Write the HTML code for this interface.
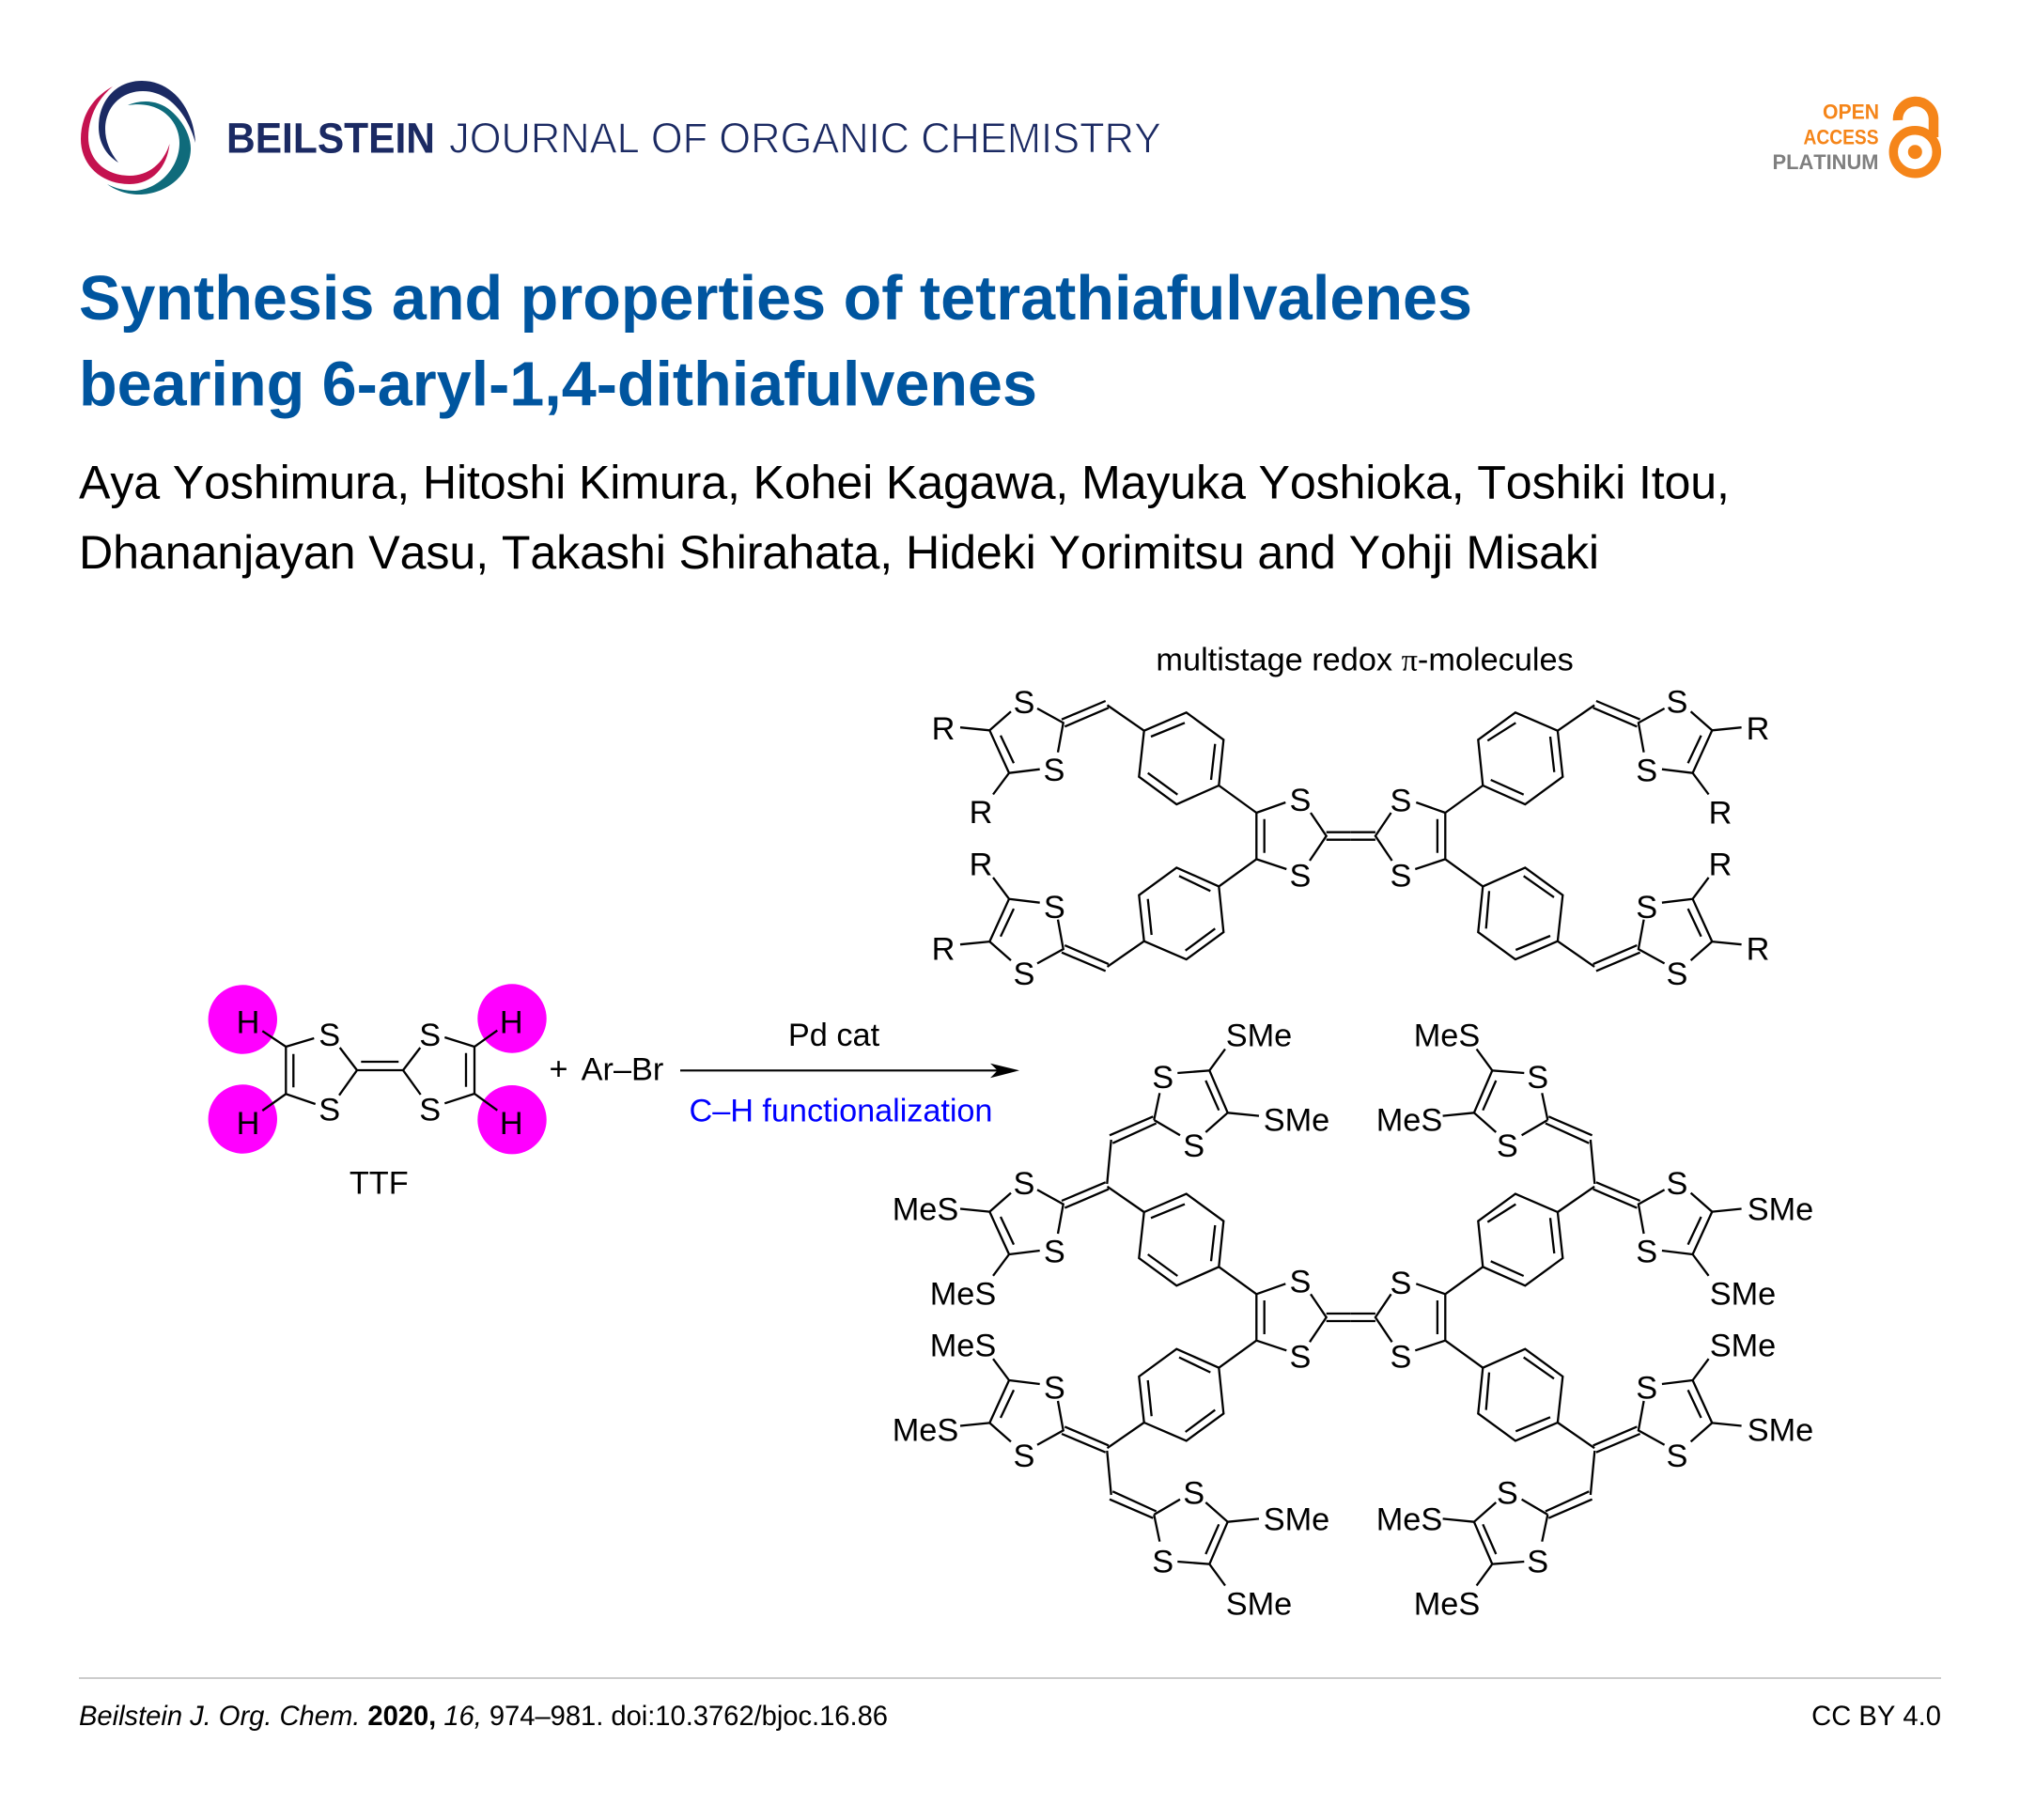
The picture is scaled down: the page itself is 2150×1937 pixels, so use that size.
<!DOCTYPE html>
<html lang="en"><head><meta charset="utf-8"><title>Synthesis and properties of tetrathiafulvalenes bearing 6-aryl-1,4-dithiafulvenes</title>
<style>
html,body{margin:0;padding:0;background:#fff}
svg{display:block}
text{font-family:"Liberation Sans",Arial,sans-serif;font-kerning:none}
.b{fill:none;stroke:#000;stroke-width:2.3;stroke-linejoin:miter;stroke-linecap:butt}
.c text{font-size:34.3px;fill:#000;text-anchor:middle}
</style></head><body>
<svg xmlns="http://www.w3.org/2000/svg" width="2150" height="1937" viewBox="0 0 2150 1937">
<rect width="2150" height="1937" fill="#fff"/>
<defs>
<g id="arm" class="b">
<path d="M1053.3 777.3L1076 757.3M1104 754L1131.7 769.3L1126 800.7M1106.7 818.7L1074 822.7L1053.3 777.3M1065 782.7L1079 812.3M1130 765.7L1176.7 746M1133.3 773.3L1180 753.3M1178.5 750.5L1217.7 777.7M1297.3 836L1337.3 865M1022 774.2L1053.3 777.3M1074 822.7L1057 845.5"/>
<path d="M1217.7 777.7L1262.7 758.3L1302.3 787.3L1297.3 836L1252.3 856L1212.3 826.7Z"/>
</g>
<g id="cen" class="b">
<path d="M1337.3 865L1368.3 854M1395 865L1411.7 889.7L1394 916M1337.3 914.4L1369.3 925M1337.3 865V914.4M1345.7 871.7V907.7M1411.7 885.7H1437.8M1411.7 893.7H1437.8"/>
</g>
<g id="inn" class="b">
<path d="M1225 784L1261 769.3M1293.3 791.7L1289 830M1253.3 845.7L1221.7 822.7M1650 784L1654.3 821.7M1613.3 769.3L1583.3 788.3M1586.7 830L1621.7 845.7M1255 932.3L1288.3 948.3M1221.7 956.7L1225.7 995M1293.3 988.3L1261.7 1011.7M1621.7 932.3L1654 955M1585 948.3L1581.7 988.3M1650 996L1613.3 1011"/>
</g>
<g id="mol">
<use href="#arm"/>
<use href="#arm" transform="matrix(-1 0 0 1 2875.6 0)"/>
<use href="#arm" transform="matrix(1 0 0 -1 0 1779.4)"/>
<use href="#arm" transform="matrix(-1 0 0 -1 2875.6 1779.4)"/>
<use href="#cen"/>
<use href="#cen" transform="matrix(-1 0 0 1 2875.6 0)"/>
<use href="#inn"/>
</g>
<g id="br" class="b">
<path d="M1178.3 1260L1182.7 1213M1181 1208.3L1227.3 1188.3M1184.3 1216.7L1230.7 1195.5M1228.3 1192L1234.3 1163.3M1253.3 1142L1287.3 1139.3L1306.7 1184.3M1283.3 1150L1297.3 1181.7M1287.3 1139.3L1304 1116.5M1306.7 1184.3L1340 1187.6M1306.7 1184.3L1283.3 1205M1228.3 1192L1256 1208.3"/>
</g>
</defs>

<!-- logo -->
<path fill="#1b2a63" d="M208 152C206 115 183 86 151 86C123 86 105 108 105 135C105 152 113 165 126 173C117 162 112 150 112 137C112 114 129 97 152 97C179 97 199 120 208 152Z"/>
<path fill="#c4124f" d="M120 92C98 104 86 124 86 148C86 176 108 196 138 196C162 196 178 178 180.5 153C174 174 158 187 138 187C112 187 94 170 94 146C94 126 103 106 120 92Z"/>
<path fill="#0f6b7b" d="M136 112C150 106 168 106 182 118C196 130 203 146 203 158C203 186 177 207 148 207C134 207 122 202 114 196C124 201 134 203 144 203C170 201 191 178 191 152C191 130 172 106 136 112Z"/>
<text x="241" y="162.7" font-size="45" font-weight="700" fill="#1b2a63" textLength="222" lengthAdjust="spacingAndGlyphs">BEILSTEIN</text>
<text x="478" y="162.7" font-size="45" fill="#1b2a63" stroke="#fff" stroke-width="1" textLength="758" lengthAdjust="spacingAndGlyphs">JOURNAL OF ORGANIC CHEMISTRY</text>

<!-- open access -->
<text x="1940" y="126.7" font-size="22" font-weight="700" fill="#f58519" textLength="60" lengthAdjust="spacingAndGlyphs">OPEN</text>
<text x="1919.5" y="153.3" font-size="22" font-weight="700" fill="#f58519" textLength="80" lengthAdjust="spacingAndGlyphs">ACCESS</text>
<text x="1886.5" y="180" font-size="22" font-weight="700" fill="#7f7f7f" textLength="113" lengthAdjust="spacingAndGlyphs">PLATINUM</text>
<circle cx="2038.3" cy="161.7" r="23" fill="none" stroke="#f58519" stroke-width="9.5"/>
<circle cx="2038.3" cy="161.7" r="7.5" fill="#f58519"/>
<path d="M2020 128A19 19 0 0 1 2058 126V146" fill="none" stroke="#f58519" stroke-width="10.5"/>

<!-- title -->
<text x="84" y="340" font-size="66.55" font-weight="700" fill="#00559f" textLength="1483">Synthesis and properties of tetrathiafulvalenes</text>
<text x="84" y="431.7" font-size="66.55" font-weight="700" fill="#00559f" textLength="1020">bearing 6-aryl-1,4-dithiafulvenes</text>
<text x="84" y="530.7" font-size="50.2" fill="#000" textLength="1757">Aya Yoshimura, Hitoshi Kimura, Kohei Kagawa, Mayuka Yoshioka, Toshiki Itou,</text>
<text x="84" y="605" font-size="50.2" fill="#000" textLength="1618">Dhananjayan Vasu, Takashi Shirahata, Hideki Yorimitsu and Yohji Misaki</text>

<!-- TTF -->
<circle cx="258.3" cy="1085" r="36.7" fill="#ff00ff"/>
<circle cx="258.3" cy="1191" r="36.7" fill="#ff00ff"/>
<circle cx="545" cy="1084" r="36.7" fill="#ff00ff"/>
<circle cx="545" cy="1191.7" r="36.7" fill="#ff00ff"/>
<path class="b" d="M279.3 1097.3L304.3 1114L334.3 1105M361.7 1115L380 1139L361 1165.7M335.7 1175L304.3 1164.3L279.3 1182M304.3 1114V1164.3M312.3 1121.7V1157.3M384.3 1130H424.3M380 1139H429M447.3 1115L429 1139L447.7 1165M473.3 1104L505 1114L529.3 1096.7M473.3 1174.3L505 1164L529.3 1181.7M505 1114V1164M496 1120.7V1156.7"/>
<g class="c" transform="translate(0 0.5)">
<text x="264" y="1098.8">H</text><text x="264" y="1206.5">H</text><text x="544.3" y="1098.8">H</text><text x="544.3" y="1206.5">H</text>
<text x="350.7" y="1112.5">S</text><text x="350.7" y="1192.2">S</text><text x="457.7" y="1112.5">S</text><text x="457.7" y="1192.2">S</text>
<text x="403.3" y="1269.8">TTF</text>
<text x="594.5" y="1148.5">+</text>
<text x="662.5" y="1149">Ar–Br</text>
<text x="887.5" y="1112.5">Pd cat</text>
<text x="895" y="1192.8" style="fill:#0000ff" textLength="323">C–H functionalization</text>
</g>
<path d="M724 1139.3H1062" fill="none" stroke="#000" stroke-width="2.2"/>
<path d="M1054 1131.7L1085 1139.3L1054 1147.3L1061.7 1139.3Z" fill="#000"/>

<!-- molecules -->
<use href="#mol"/>
<use href="#mol" transform="translate(0 512.3)"/>
<use href="#br"/>
<use href="#br" transform="matrix(-1 0 0 1 2875.6 0)"/>
<use href="#br" transform="matrix(1 0 0 -1 0 2804)"/>
<use href="#br" transform="matrix(-1 0 0 -1 2875.6 2804)"/>

<g class="c" transform="translate(0 0.5)">
<text x="1452.6" y="712.8">multistage redox <tspan font-family="Liberation Serif,serif">π</tspan>-molecules</text>
<!-- molecule 1 -->
<text x="1090" y="758.5">S</text><text x="1122" y="830.5">S</text><text x="1004" y="786.5">R</text><text x="1044" y="875.5">R</text>
<text x="1044" y="930.8">R</text><text x="1122.3" y="976.5">S</text><text x="1004" y="1020.8">R</text><text x="1090" y="1047.5">S</text>
<text x="1384" y="862.5">S</text><text x="1384" y="943.2">S</text><text x="1491" y="863.2">S</text><text x="1491" y="943.2">S</text>
<text x="1785" y="758.2">S</text><text x="1871" y="786.5">R</text><text x="1752.7" y="830.8">S</text><text x="1831" y="875.8">R</text>
<text x="1831" y="930.8">R</text><text x="1752.7" y="976.5">S</text><text x="1871" y="1020.8">R</text><text x="1785" y="1047.5">S</text>
<!-- molecule 2 -->
<text x="1340" y="1113.2">SMe</text><text x="1380" y="1203.2">SMe</text><text x="1237.7" y="1157.5">S</text><text x="1270.7" y="1230.5">S</text>
<text x="1540" y="1113.2">MeS</text><text x="1500" y="1203.2">MeS</text><text x="1636.7" y="1157.5">S</text><text x="1604.3" y="1230.5">S</text>
<text x="985" y="1298.2">MeS</text><text x="1025" y="1388.2">MeS</text><text x="1090" y="1270.5">S</text><text x="1122.3" y="1343.2">S</text>
<text x="1895" y="1298.2">SMe</text><text x="1855" y="1388.2">SMe</text><text x="1785" y="1270.5">S</text><text x="1752.7" y="1343.2">S</text>
<text x="1384" y="1374.8">S</text><text x="1384" y="1454.8">S</text><text x="1491" y="1376.5">S</text><text x="1491" y="1454.8">S</text>
<text x="1025" y="1443.2">MeS</text><text x="985" y="1533.2">MeS</text><text x="1122.3" y="1488.2">S</text><text x="1090" y="1560.5">S</text>
<text x="1855" y="1443.2">SMe</text><text x="1895" y="1533.2">SMe</text><text x="1752.7" y="1488.2">S</text><text x="1785" y="1560.5">S</text>
<text x="1270.7" y="1599.8">S</text><text x="1380" y="1628.2">SMe</text><text x="1237.7" y="1673.2">S</text><text x="1340" y="1718.2">SMe</text>
<text x="1604.3" y="1599.8">S</text><text x="1500" y="1628.2">MeS</text><text x="1636.7" y="1673.2">S</text><text x="1540" y="1718.2">MeS</text>
</g>

<!-- footer -->
<rect x="84" y="1785" width="1982" height="2" fill="#cccccc"/>
<text x="84" y="1836" font-size="29.2" fill="#000" textLength="861"><tspan font-style="italic">Beilstein J. Org. Chem.</tspan> <tspan font-weight="700">2020,</tspan> <tspan font-style="italic">16,</tspan> 974–981. doi:10.3762/bjoc.16.86</text>
<text x="2066" y="1836" font-size="29.2" fill="#000" text-anchor="end">CC BY 4.0</text>
</svg>
</body></html>
